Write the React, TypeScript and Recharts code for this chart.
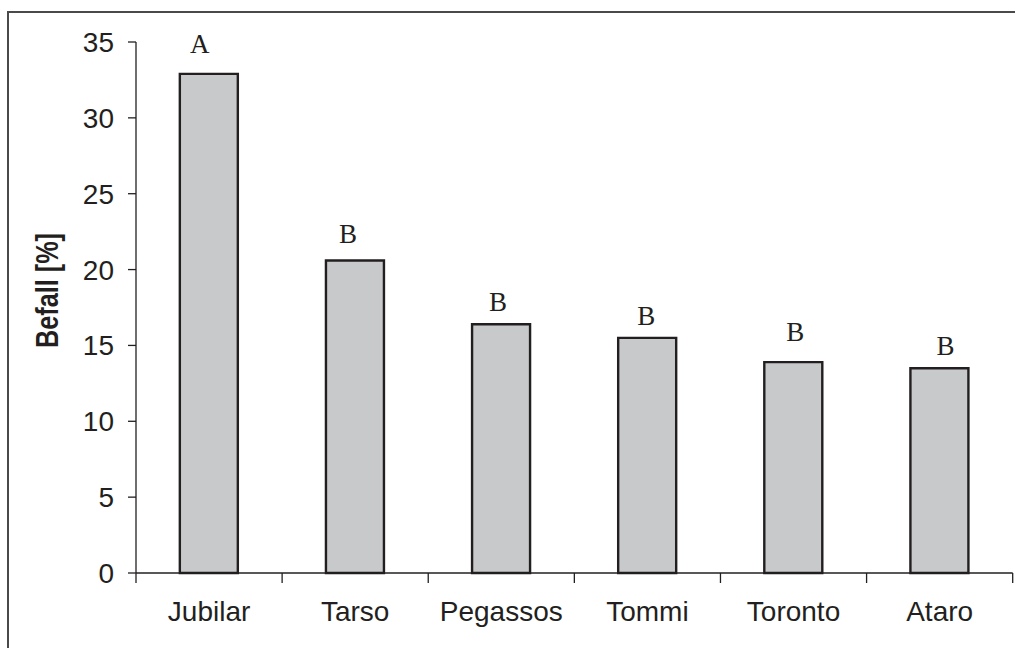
import React from 'react';
import { BarChart, Bar, XAxis, YAxis, LabelList } from 'recharts';

const categories = ['Jubilar', 'Tarso', 'Pegassos', 'Tommi', 'Toronto', 'Ataro'];
const befall = [32.9, 20.6, 16.4, 15.5, 13.9, 13.5];
const letters = ['A', 'B', 'B', 'B', 'B', 'B'];
const yTicks = [0, 5, 10, 15, 20, 25, 30, 35];

// style: small per-letter nudges (px) as placed in the original figure
const letterDx = [-9, -7, -3, -1, 2, 6];
const letterGap = [21, 17, 13, 13, 21, 13];

const data = categories.map((name, i) => ({ name, value: befall[i], letter: letters[i] }));

const SANS = '"Liberation Sans", Arial, sans-serif';
const SERIF = '"Liberation Serif", "Times New Roman", serif';
const INK = '#231f20';
const FRAME = '#4a4a4a';
const X_TICK_MARGIN = 28;
const X_TICK_LEN = 10;

const LetterLabel = (props: any) => {
  const { x, y, width, index, value } = props;
  return (
    <text
      x={x + width / 2 + letterDx[index]}
      y={y - letterGap[index]}
      textAnchor="middle"
      fontFamily={SERIF}
      fontSize={27}
      fill={INK}
    >
      {value}
    </text>
  );
};

const YLabel = (props: any) => {
  const vb = props.viewBox;
  const cx = vb.x + 58;
  const cy = vb.y + vb.height / 2 - 17;
  return (
    <text
      x={cx}
      y={cy}
      transform={`rotate(-90, ${cx}, ${cy})`}
      textAnchor="middle"
      fontFamily={SANS}
      fontWeight="bold"
      fontSize={32}
      textLength={115}
      lengthAdjust="spacingAndGlyphs"
      fill={INK}
    >
      Befall [%]
    </text>
  );
};

const CatTick = (props: any) => {
  const { x, y, payload, index, visibleTicksCount } = props;
  const half = payload && payload.offset ? payload.offset : 73;
  const axisY = y - X_TICK_MARGIN;
  const isLast = index === visibleTicksCount - 1;
  return (
    <g>
      <line x1={x - half} x2={x - half} y1={axisY} y2={axisY + X_TICK_LEN} stroke={INK} strokeWidth={1.3} />
      {isLast && (
        <line x1={x + half} x2={x + half} y1={axisY} y2={axisY + X_TICK_LEN} stroke={INK} strokeWidth={1.3} />
      )}
      <text x={x} y={y} dy="0.71em" textAnchor="middle" fontFamily={SANS} fontSize={28} fill={INK}>
        {payload.value}
      </text>
    </g>
  );
};

export default function App() {
  return (
    <div
      style={{
        position: 'fixed',
        left: 0,
        top: 0,
        width: 1015,
        height: 648,
        overflow: 'hidden',
        background: '#fff',
      }}
    >
      <div style={{ position: 'absolute', left: 7, top: 11, width: 1008, height: 2, background: FRAME }} />
      <div style={{ position: 'absolute', left: 7, top: 11, width: 2, height: 637, background: FRAME }} />
      <BarChart
        style={{ position: 'absolute', left: 0, top: 0 }}
        width={1015}
        height={648}
        data={data}
        margin={{ top: 42, right: 2.3, bottom: 0, left: 0 }}
        barCategoryGap="30%"
        accessibilityLayer={false}
      >
        <XAxis
          dataKey="name"
          height={75}
          interval={0}
          tickLine={false}
          tickSize={0}
          tickMargin={X_TICK_MARGIN}
          axisLine={{ stroke: INK, strokeWidth: 1.5 }}
          tick={<CatTick />}
        />
        <YAxis
          width={136}
          domain={[0, 35]}
          ticks={yTicks}
          interval={0}
          tickSize={8}
          tickMargin={14}
          axisLine={{ stroke: INK, strokeWidth: 1.3 }}
          tickLine={{ stroke: INK, strokeWidth: 1.3 }}
          tick={{ fontSize: 28, fill: INK, fontFamily: SANS }}
          label={{ content: YLabel }}
        />
        <Bar
          dataKey="value"
          fill="#c8c9cb"
          stroke={INK}
          strokeWidth={2.4}
          isAnimationActive={false}
        >
          <LabelList dataKey="letter" content={LetterLabel} />
        </Bar>
      </BarChart>
    </div>
  );
}
